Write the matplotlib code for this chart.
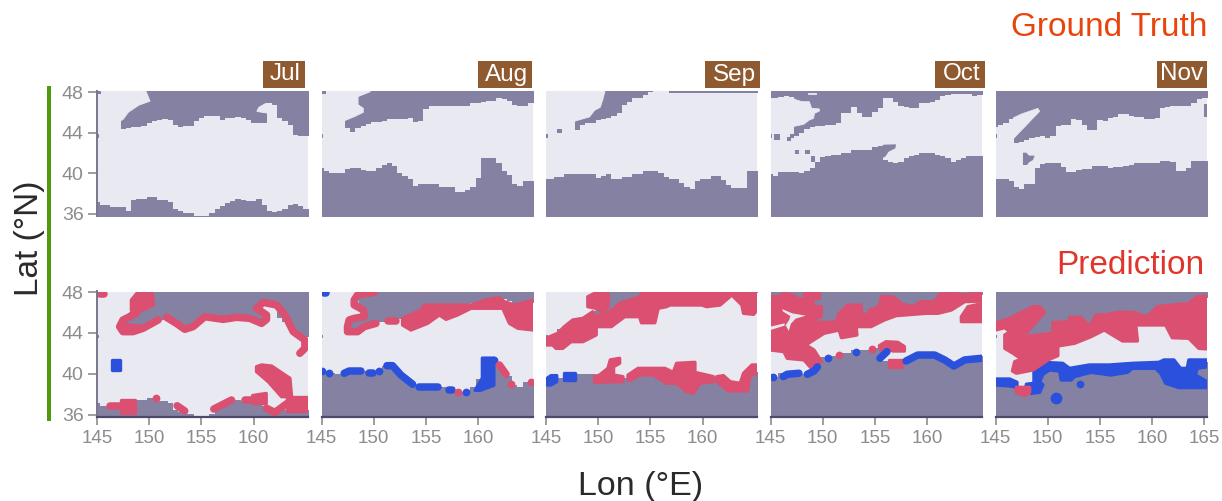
import matplotlib
matplotlib.use("Agg")
import numpy as np
import matplotlib.pyplot as plt
from matplotlib.patches import Rectangle

plt.rcParams['font.family'] = ['Liberation Sans', 'DejaVu Sans']

MONTHS = ['Jul', 'Aug', 'Sep', 'Oct', 'Nov']
XTICKS = [145, 150, 155, 160]
YTICKS = [36, 40, 44, 48]
LONS = np.arange(145, 165.51, 0.5)
NO = 48.4

JUL_SOUTH = [37.2,36.9,36.9,36.65,36.65,36.65,36.3,37.4,37.5,37.5,37.7,37.7,37.4,37.4,37.15,36.5,36.3,36.1,36.1,35.8,35.8,35.8,36.1,36.5,36.75,37.1,37.3,37.5,37.4,37.3,37.3,37.5,36.9,36.3,36.15,36.3,36.5,36.9,37.0,36.75,36.5,36.4]
JUL_NORTH = [NO,NO,NO,NO,NO,44.4,44.45,44.55,44.6,44.7,44.95,45.1,45.2,45.3,45.2,44.8,44.6,44.7,44.7,45.1,45.45,45.65,45.65,45.6,45.25,45.45,45.45,45.5,45.45,45.2,44.95,44.95,44.95,46.9,46.75,45.45,45.1,44.8,43.8,43.65,43.65,43.65]
AUG_SOUTH = [40.55,40.2,40.05,40,40,40.4,40.5,40.5,40.3,40.25,40.25,40.5,40.8,41,40.7,40,39.7,39.4,38.75,38.95,38.95,38.95,38.95,38.7,38.7,38.7,38.2,38.2,38.4,38.7,39.55,41.5,41.5,41.5,41,40.2,39.8,38.9,38.75,39.2,39.2,39.2]
AUG_NORTH = [NO,NO,NO,NO,NO,44.45,44.1,44.45,44.7,44.9,45.05,45.05,45.1,45.3,45.35,45.35,45.35,45.45,45.05,45.1,46.3,46.65,46.65,46.65,46.65,46.65,46.65,46.65,46.65,46.9,46.9,47,47.15,47.15,47.4,47.3,47.1,46.75,46.65,46.65,46.9,46.9]
SEP_SOUTH = [39.45,39.45,39.65,39.65,39.95,39.95,39.95,39.95,39.95,39.95,39.5,39.75,39.95,39.45,39.45,39.65,39.65,39.95,39.95,40.2,40.2,40.2,40,39.65,39.45,39.45,39,38.7,38.45,39.2,39.45,39.45,39.7,39.7,39.35,38.85,38.6,38.6,38.6,40.2,40.2,40.2]
SEP_NORTH = [NO,NO,NO,NO,NO,NO,44.3,44.75,45,45,45.25,45.35,45.4,45.65,45.9,46.7,47.05,47.4,47.45,47.7,48,NO,NO,NO,47.9,47.9,47.9,47.9,47.9,47.9,47.9,47.9,47.9,47.9,47.9,47.9,47.9,47.9,47.9,47.9,47.9,47.9]
OCT_SOUTH = [39.95,39.75,40.1,40.15,40.15,40.15,40,40.2,40.5,41.15,41.65,41.75,41.8,41.85,42,42,42.3,42.3,42.3,42.3,42.55,42.65,41.3,41.15,41,41.1,41.5,41.7,41.85,42,42,42,41.8,41.7,41.5,41.1,41.3,41.55,41.75,41.75,41.75,41.75]
OCT_NORTH = [47.45,47.4,47.5,47.6,47.55,43.7,43.95,44.35,44.6,44.7,44.7,44.75,44.75,45,45.9,45.9,46.55,45.9,45.55,45.55,46.05,46.4,47.4,47.4,47,46.6,46.55,46.4,46.4,46.9,46.9,47.05,47.2,47.6,47.7,47.85,47.85,47.85,47.85,47.65,47.7,47.7]
NOV_SOUTH = [39.45,39.45,39.45,39.2,38.7,38.45,38.95,38.95,40.5,40.9,41,41,41,40.65,40.15,40.1,40.3,40.4,40.4,40.7,40.7,40.7,40.5,40.65,40.65,40.7,40.8,41,41,41.05,41.05,41.05,41.25,41.25,41.15,40.2,40.2,40.5,41.2,41.2,41.2,41.2]
NOV_NORTH = [44.6,44.8,45,45.35,42.95,43.1,43.3,43.5,43.6,43.7,43.5,43.7,44.7,44.8,44.8,45.3,45.25,44.75,44.25,44.25,45.25,45.1,45.4,45.55,45.8,45.8,45.65,45.55,45.55,45.35,45.35,45.4,46.45,46.55,46.6,46.6,46.6,46.6,46.9,47.3,47.45,47.45]

# Light (open water) pockets cut out of the grey region
JUL_GAPS = [[(145.8,44.4),(147.5,45.3),(148,46),(149,46.7),(150.08,47.1),(149.6,48.3),(145.8,48.3)],
            [(160.3,46.1),(160.5,46.5),(161.2,46.9),(161.8,46.7),(161.5,45.9),(160.8,46.0)]]
AUG_GAPS = [[(147.25,45.2),(148.2,45.6),(149,46),(149,46.4),(148.5,46.75),(148.5,47.55),(149.6,48),(149.9,48.3),(147.25,48.3)]]
SEP_GAPS = [[(147.4,44.7),(147.55,44.9),(147.8,45.15),(149.17,45.55),(149.65,46.2),(150.2,46.5),(150.45,47.3),(150.7,48.3),(147.4,48.3)]]
OCT_GAPS = [[(147.12,44.59),(148.17,44.82),(148.72,45.25),(149.13,45.41),(149.2,45.9),(149.68,46.13),(149.68,46.33),(148.94,46.39),(148.72,47.05),(148.01,47.05),(147.5,47.21),(147.12,47.38)],
            [(148.6,47.85),(149.4,47.85),(149.4,47.95),(148.6,47.95)]]
NOV_GAPS = [[(146.7,43.4),(149.22,46.1),(149.06,46.39),(147.5,45.84),(146.7,45.45)]]

# Small grey patches: lon0, lon1, lat0, lat1
JUL_SPOTS = [(145,145.4,47.8,48.2),(145,145.15,43.5,43.85)]
AUG_SPOTS = [(145,145.4,47.8,48.2),(145,145.15,43.5,43.85)]
SEP_SPOTS = [(145,145.15,43.5,43.85),(146.1,146.5,44,44.4)]
OCT_SPOTS = [(145,145.15,43.5,43.85),(145.3,145.95,43.25,43.85),(146.6,146.95,43.2,43.6),(146.9,147.25,43.5,43.85),(147.35,147.75,41.9,42.3),(148.35,148.8,41.9,42.3),(148.9,149.3,41.1,41.75)]
NOV_SPOTS = [(145,145.15,43.5,43.85),(164.95,165.2,45.57,46.8)]
OCT_LAND = [[(155.29,42.46),(155.87,42.82),(157.02,42.85),(156.95,42.46),(156.31,42.13),(155.99,41.64),(155.77,41.54),(155.29,41.64)]]
NOV_LAND = [[(147.63,42.03),(147.95,42.03),(148.21,41.74),(148.75,41.74),(148.59,41.31),(148.21,41.08),(148.02,40.82),(147.63,40.82)]]

# Error regions: polygons, runs (lines) and single spots
JUL_RED_AREAS = [[(148.29,47.22),(149.09,48.2),(150.21,48.2),(150.43,46.73),(149.57,46.34),(148.45,45.82),(148.29,46.24)],
                 [(160.27,40.71),(160.75,40.88),(161.71,40.78),(163.47,39.58),(163.63,37.78),(162.67,37.78),(161.39,39.25),(160.27,40.23)],
                 [(147.33,37.46),(148.61,37.46),(148.61,36.16),(147.33,36.16)],
                 [(159.9,37.9),(161.2,38.1),(161.2,37.1),(159.9,37.1)],
                 [(163.15,37.8),(165.3,37.8),(165.3,36.35),(163.15,36.35)]]
JUL_RED_LINES = [[(145.25,47.85),(145.65,47.85)],
                 [(148.77,45.92),(147.49,45.27),(147.17,44.62),(147.49,44.13),(148.45,44.13),(149.41,44.46),(150.85,45.27)],
                 [(147.6,44.6),(149,44.5)],
                 [(151.65,45.53),(152.6,44.94),(153.4,44.36),(154.2,44.62),(155.32,45.59),(157.08,45.33),(158.35,45.53),(159.63,45.43),(160.75,44.94),(161.23,45.33),(161.23,45.76),(160.27,46.41),(160.91,46.99),(162.19,46.73),(162.99,45.76),(163.79,44.13),(164.9,43.32),(164.9,42.5),(164.42,42.02)],
                 [(146.21,36.9),(148.45,36.9)],
                 [(152.67,36.9),(153.4,36.39)],
                 [(156.18,36.58),(157.88,37.46)],
                 [(159.15,37.46),(160.91,37.46)],
                 [(161.23,36.65),(162.03,36.25),(163.3,37.2),(165.1,37.15)]]
JUL_RED_SPOTS = [(150.62,37.69)]
JUL_BLUE_AREAS = [[(146.47,41.37),(147.17,41.37),(147.17,40.39),(146.47,40.39)]]
JUL_BLUE_LINES = []
JUL_BLUE_SPOTS = []

AUG_RED_AREAS = [[(152.76,45.43),(154.52,46.24),(154.84,46.73),(159.31,46.73),(160.75,47.22),(162.03,47.45),(162.51,47.06),(163.47,46.73),(165.3,47.22),(165.3,44.29),(163.79,44.46),(162.99,44.94),(162.35,46.41),(159.31,46.41),(158.03,45.76),(156.92,45.33),(156.28,45.76),(155.16,44.94),(153.56,44.29),(152.76,44.78)]]
AUG_RED_LINES = [[(150.05,47.97),(148.45,47.71),(148.13,47.22),(148.13,46.73),(149.03,46.24),(149.09,45.59),(148.13,45.43),(147.65,45.27),(147.49,44.62),(147.49,44.13),(148.45,44.13),(149.09,44.62),(150.21,44.94)],
                 [(151.33,45.17),(152.12,45.17)],
                 [(162.03,40.88),(162.67,39.97)]]
AUG_RED_SPOTS = [(158.03,38.2),(163.15,39.0),(165.06,39.25)]
AUG_BLUE_AREAS = [[(160.4,41.55),(161.5,41.55),(161.5,38.9),(160.2,38.4),(159.7,38.4),(160.4,39.6)]]
AUG_BLUE_LINES = [[(147.17,40.07),(147.65,40.29),(148.77,40.29)],[(149.57,40.07),(149.89,40.07)],
                  [(151.26,40.81),(151.8,40.81),(152.6,39.9),(153.72,39.0)],
                  [(154.36,38.73),(156.12,38.73)],[(157.24,38.44),(157.5,38.44)],[(145.25,47.95),(145.4,47.95)]]
AUG_BLUE_SPOTS = [(145.0,40.29),(145.73,40.07),(150.53,40.29),(158.83,38.2),(161.55,41.33)]

SEP_RED_AREAS = [[(149.0,47.54),(150.3,48.2),(150.96,48.2),(150.96,46.57),(150.45,45.92),(149.8,46.41),(149.0,46.57)],
                 [(145,43.48),(146.12,43.97),(146.76,44.62),(147.56,45.27),(148.53,45.43),(149.49,46.08),(149.65,45.59),(150.77,45.76),(152.05,46.89),(153.97,47.54),(154.29,48.2),(165.35,48.2),(165.35,46.41),(164.87,45.82),(163.91,45.92),(163.75,46.73),(162.79,47.71),(161.67,46.73),(160.38,46.57),(159.9,46.73),(156.86,46.73),(156.54,46.57),(155.74,46.41),(155.42,45),(154.13,45),(153.97,45.59),(152.53,45.59),(151.25,44.62),(149.81,44.62),(149.81,43.81),(148.53,43.15),(147.4,43.15),(146.6,42.5),(145.96,42.5),(145.64,42.83),(145,42.83)],
                 [(149.65,39.74),(150.13,39.9),(150.93,40.55),(151.15,41.37),(152.05,41.53),(152.05,41.04),(151.47,40.72),(151.47,39.9),(152.37,39.74),(152.37,39.25),(149.65,39.19)],
                 [(152.85,39.9),(153.81,40.55),(156.38,40.55),(157.18,40.16),(157.5,41.04),(159.26,41.14),(159.26,40.16),(161.03,39.74),(161.03,39.25),(159.74,39.09),(159.1,38.11),(158.46,38.27),(157.5,39.09),(156.54,39.09),(155.26,39.9),(153.97,39.9),(153.17,39.41),(152.85,39.41)],
                 [(161.35,39.74),(161.99,39.84),(162.63,39.25),(163.59,39.09),(163.91,40.07),(164.71,40.88),(165.35,40.88),(165.35,39.97),(164.55,39.9),(164.29,38.34),(162.47,38.34),(161.35,39.25)]]
SEP_RED_LINES = []
SEP_RED_SPOTS = []
SEP_BLUE_AREAS = [[(145,39.5),(145.48,39.84),(146.03,39.84),(146.03,39.25),(145.48,38.93),(145,38.93)],
                  [(146.7,40.07),(147.82,40.07),(147.82,39.41),(146.7,39.41)]]
SEP_BLUE_LINES = []
SEP_BLUE_SPOTS = []

OCT_RED_AREAS = [[(145,47.54),(145.8,47.54),(146.28,47.87),(147.08,47.71),(147.72,47.32),(149,47.32),(149.17,46.57),(149.87,46.57),(149.87,45.59),(149.33,45.43),(149.33,45.04),(151.25,45.04),(151.57,45.92),(152.37,46.73),(153.65,46.73),(153.75,45.82),(154.36,45.82),(154.46,46.24),(155.42,46.57),(155.64,47.54),(156.7,47.54),(157.66,46.8),(158.62,46.57),(159.42,47.06),(160.71,47.06),(161.19,47.77),(162.31,47.87),(163.59,47.71),(164.55,47.87),(165.35,48.1),(165.35,47.12),(163.59,47.06),(162.31,46.24),(161.03,45.92),(159.9,45.92),(157.02,45.69),(155.9,45.27),(154.62,44.62),(153.33,44.62),(153.17,45.11),(153.27,43.8),(151.79,43.54),(151.57,44.29),(150.13,43.97),(148.37,42.83),(149.17,42.34),(149.87,41.2),(148.85,40.62),(148.21,41.37),(146.6,41.53),(146.28,42.18),(145,42.34)],
                 [(163.27,45.59),(163.91,46.57),(165.35,46.89),(165.35,45.11),(163.27,45.11)],
                 [(148.2,48.2),(149.65,48.2),(149.65,47.38),(148.2,47.38)],
                 [(155.42,42.76),(156.06,43.15),(157.18,43.09),(157.82,42.67),(157.82,42.24),(156.7,42.24),(156.22,42.5),(155.58,42.34)],
                 [(156.38,41.37),(157.6,41.37),(157.6,40.72),(156.38,40.72)]]
OCT_RED_LINES = []
OCT_RED_SPOTS = [(151.57,41.85),(154.68,42.4)]
OCT_HOLES = [[(146.12,46.33),(147.08,45.92),(148.37,45.69),(147.4,45.4),(146.95,44.9),(146.75,44.2),(146.45,44.75),(146.8,45.3),(146.9,45.65),(146.2,46.1)],
             [(145,44.62),(146.35,44.94),(146.35,44.72),(145,44.29)]]
OCT_BLUE_AREAS = []
OCT_BLUE_LINES = [[(146.22,39.74),(146.6,39.97),(147.72,40.07)],
                  [(148.53,39.97),(149.17,40.29),(149.49,40.7)],
                  [(155.48,41.53),(156.15,42.18)],
                  [(157.98,41.27),(159.1,41.85),(160.71,41.85),(161.67,41.37),(162.56,40.78),(163.59,41.37),(165.19,41.53)]]
OCT_BLUE_SPOTS = [(145.26,39.74),(150.55,41.6),(153.17,42.14)]

NOV_RED_AREAS = [[(145,44.94),(146.37,45.43),(148.59,46.57),(149.22,46.57),(149.7,46.02),(147.63,43.64),(150.49,43.97),(150.49,45.01),(152.08,45.11),(152.08,45.53),(153.19,45.53),(153.98,44.62),(154.62,45.76),(155.41,45.76),(156.68,46.02),(158.11,46.02),(159.54,45.59),(160.49,46.57),(163.51,46.89),(164.3,47.54),(165.35,47.64),(165.35,42.44),(164.46,42.5),(163.51,43.48),(161.92,43.54),(161.29,44.78),(158.43,44.78),(158.59,43.22),(157.16,43.22),(155.41,44.29),(154.14,43.64),(152.56,42.99),(150.97,42.73),(150.97,41.79),(150.02,41.37),(148.59,40.39),(147,40.07),(146.62,40.29),(146.84,41.2),(147.48,41.46),(146.68,42.02),(145.89,42.5),(145.89,43.8),(146.37,44.13),(145.89,44.52),(145,44.29)],
                 [(147,38.7),(148.27,38.7),(148.27,38.21),(147.79,37.89),(147,38.21)]]
NOV_RED_LINES = []
NOV_RED_SPOTS = []
NOV_BLUE_AREAS = [[(145,39.51),(146.37,39.51),(147.06,39.19),(147.06,38.7),(146.37,38.83),(145,38.93)],
                  [(148.68,40.55),(149.54,41.14),(151.44,41.04),(152.08,40.55),(153.98,40.88),(155.89,40.88),(158.11,41.04),(160.65,41.14),(161.13,41.37),(162.08,41.37),(162.71,40.55),(163.35,40.55),(163.51,41.37),(165.35,41.37),(165.35,40.72),(164.3,40.55),(164.14,39.9),(165.35,39.19),(165.35,38.67),(162.56,38.67),(161.29,39.09),(160.81,40.07),(160.33,40.55),(158.11,40.55),(157.63,40.16),(156.05,39.9),(154.14,40.16),(152.56,39.74),(152.24,39.41),(151.29,39.41),(151.13,40.29),(150.17,40.39),(149.54,39.97),(149.22,39.25),(149.54,38.93),(149.22,38.21),(148.43,38.11),(147.95,39.0),(148.68,39.09)]]
NOV_BLUE_LINES = []
NOV_BLUE_SPOTS = [(153.1,39.0)]
NOV_BLUE_DOTS = [(150.81,37.63)]

SOUTHS = [JUL_SOUTH, AUG_SOUTH, SEP_SOUTH, OCT_SOUTH, NOV_SOUTH]
NORTHS = [JUL_NORTH, AUG_NORTH, SEP_NORTH, OCT_NORTH, NOV_NORTH]
GAPS = [JUL_GAPS, AUG_GAPS, SEP_GAPS, OCT_GAPS, NOV_GAPS]
SPOTS = [JUL_SPOTS, AUG_SPOTS, SEP_SPOTS, OCT_SPOTS, NOV_SPOTS]
LANDS = [[], [], [], OCT_LAND, NOV_LAND]
RED_AREAS = [JUL_RED_AREAS, AUG_RED_AREAS, SEP_RED_AREAS, OCT_RED_AREAS, NOV_RED_AREAS]
RED_LINES = [JUL_RED_LINES, AUG_RED_LINES, SEP_RED_LINES, OCT_RED_LINES, NOV_RED_LINES]
RED_SPOTS = [JUL_RED_SPOTS, AUG_RED_SPOTS, SEP_RED_SPOTS, OCT_RED_SPOTS, NOV_RED_SPOTS]
BLUE_AREAS = [JUL_BLUE_AREAS, AUG_BLUE_AREAS, SEP_BLUE_AREAS, OCT_BLUE_AREAS, NOV_BLUE_AREAS]
BLUE_LINES = [JUL_BLUE_LINES, AUG_BLUE_LINES, SEP_BLUE_LINES, OCT_BLUE_LINES, NOV_BLUE_LINES]
BLUE_SPOTS = [JUL_BLUE_SPOTS, AUG_BLUE_SPOTS, SEP_BLUE_SPOTS, OCT_BLUE_SPOTS, NOV_BLUE_SPOTS]

GREY = '#8481a3'
LIGHT = '#e9e9f1'
RED = '#db5070'
BLUE = '#2a50dc'
BROWN = '#8f5a30'
TICK = '#8c8c8c'
DARK = '#4c4a68'

W, H = 1222, 501
fig = plt.figure(figsize=(W / 100, H / 100), dpi=100, facecolor='white')
LEFTS = [97, 321.5, 546, 770.5, 995.5]
WIDTH = 211


def make_axes(left, top, bottom):
    return fig.add_axes([left / W, 1 - bottom / H, WIDTH / W, (bottom - top) / H])


def draw_mask(ax, i):
    ax.set_facecolor(LIGHT)
    ax.fill_between(LONS, 30, SOUTHS[i], step='mid', color=GREY, lw=0)
    ax.fill_between(LONS, NORTHS[i], 50, step='mid', color=GREY, lw=0)
    for poly in GAPS[i]:
        ax.fill(*zip(*poly), color=LIGHT, lw=0.6)
    for poly in LANDS[i]:
        ax.fill(*zip(*poly), color=GREY, lw=0)
    for x0, x1, y0, y1 in SPOTS[i]:
        ax.add_patch(Rectangle((x0, y0), x1 - x0, y1 - y0, color=GREY, lw=0))


def draw_errors(ax, i):
    groups = ((BLUE_AREAS[i], BLUE_LINES[i], BLUE_SPOTS[i], BLUE),
              (RED_AREAS[i], RED_LINES[i], RED_SPOTS[i], RED))
    for areas, lines, spots, col in groups:
        for poly in areas:
            ax.fill(*zip(*poly), facecolor=col, edgecolor=col, lw=2.4, joinstyle='round')
        for run in lines:
            ax.plot(*zip(*run), color=col, lw=5.4, solid_capstyle='round', solid_joinstyle='round')
        if spots:
            ax.plot(*zip(*spots), 'o', color=col, ms=5.6, mew=0, linestyle='none')
    if i == 3:
        for poly in OCT_HOLES:
            ax.fill(*zip(*poly), color=LIGHT, lw=0)
    if i == 4:
        ax.plot(*zip(*NOV_BLUE_DOTS), 'o', color=BLUE, ms=8.5, mew=0)


for i, m in enumerate(MONTHS):
    for row, (top, bottom, ylim) in enumerate(((91, 216, (35.8, 48.1)), (291.5, 416.5, (35.85, 48.05)))):
        ax = make_axes(LEFTS[i], top, bottom)
        draw_mask(ax, i)
        if row == 1:
            draw_errors(ax, i)
        ax.set_xlim(145, 165.2)
        ax.set_ylim(*ylim)
        for s in ax.spines.values():
            s.set_visible(False)
        if i == 0:
            ax.spines['left'].set_visible(True)
            ax.spines['left'].set_color('#77768c')
            ax.spines['left'].set_linewidth(1.4)
            ax.set_yticks(YTICKS)
            ax.tick_params(axis='y', length=6.5, width=1.2, color=TICK, labelcolor=TICK, labelsize=14, pad=3)
        else:
            ax.set_yticks([])
        if row == 1:
            ax.spines['bottom'].set_visible(True)
            ax.spines['bottom'].set_color(DARK)
            ax.spines['bottom'].set_linewidth(1.6)
            ax.set_xticks(XTICKS + [165] if i == 4 else XTICKS)
            ax.tick_params(axis='x', length=6, width=1.2, color=TICK, labelcolor=TICK, labelsize=13.5, pad=4)
        else:
            ax.set_xticks([])

# Month tags
TAG_LEFTS = [263, 478, 705, 935, 1157]
TAG_RIGHTS = [305, 532, 760, 985, 1207]
for m, l, r in zip(MONTHS, TAG_LEFTS, TAG_RIGHTS):
    fig.add_artist(Rectangle((l / W, 1 - 88 / H), (r - l) / W, 27 / H, transform=fig.transFigure,
                             facecolor=BROWN, edgecolor='none'))
    fig.text((r - 4) / W, 1 - 74.5 / H, m, ha='right', va='center', color='white', fontsize=17.5)

fig.text(1207 / W, 1 - 28 / H, 'Ground Truth', ha='right', va='center', color='#e8440c', fontsize=24)
fig.text(1204 / W, 1 - 265 / H, 'Prediction', ha='right', va='center', color='#e0352b', fontsize=24)
fig.text(30 / W, 1 - 238 / H, 'Lat (°N)', rotation=90, ha='center', va='center', color='#2a2a2a', fontsize=24)
fig.text(640.5 / W, 1 - 486 / H, 'Lon (°E)', ha='center', va='center', color='#2a2a2a', fontsize=24.5)

# Green bracket next to the latitude axis
fig.add_artist(Rectangle((46.5 / W, 1 - 421 / H), 4 / W, 335 / H, transform=fig.transFigure,
                         facecolor='#4f9a0a', edgecolor='none'))

fig.savefig('out.png', dpi=100)
